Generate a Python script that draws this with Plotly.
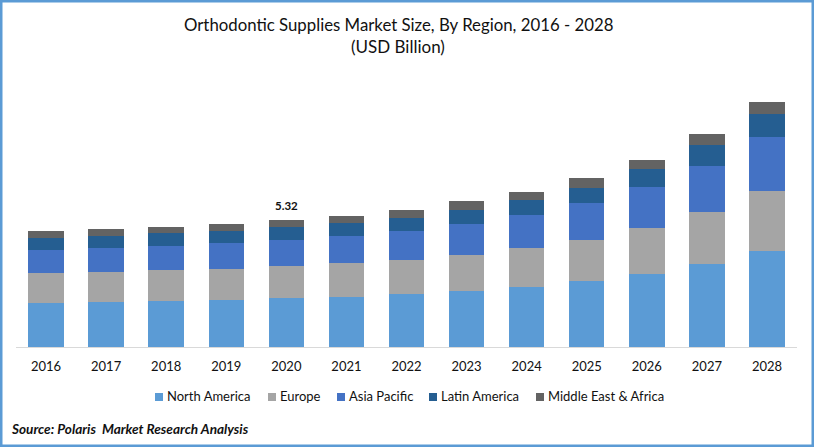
import plotly.graph_objects as go

years = ['2016', '2017', '2018', '2019', '2020', '2021', '2022',
         '2023', '2024', '2025', '2026', '2027', '2028']

# values, USD billion
north_america = [1.84, 1.89, 1.93, 1.97, 2.05, 2.09, 2.22, 2.35, 2.51, 2.76, 3.06, 3.48, 4.02]
europe = [1.26, 1.26, 1.30, 1.30, 1.34, 1.42, 1.42, 1.51, 1.63, 1.72, 1.93, 2.18, 2.51]
asia_pacific = [0.96, 1.01, 1.01, 1.09, 1.09, 1.13, 1.22, 1.30, 1.38, 1.55, 1.72, 1.93, 2.26]
latin_america = [0.50, 0.50, 0.54, 0.50, 0.55, 0.54, 0.54, 0.59, 0.63, 0.63, 0.75, 0.84, 0.96]
middle_east_africa = [0.29, 0.29, 0.25, 0.29, 0.29, 0.29, 0.34, 0.34, 0.34, 0.42, 0.38, 0.46, 0.50]

series = [
    ('North America', north_america, '#5B9BD5'),
    ('Europe', europe, '#A5A5A5'),
    ('Asia Pacific', asia_pacific, '#4472C4'),
    ('Latin America', latin_america, '#255E91'),
    ('Middle East & Africa', middle_east_africa, '#636363'),
]

W, H = 814, 447
FONT = 'Lato'
TEXT = '#111111'

fig = go.Figure()
for name, values, color in series:
    fig.add_trace(go.Bar(x=years, y=values, name=name, marker=dict(color=color, line=dict(width=0)),
                         showlegend=False))

idx_2020 = years.index('2020')
total_2020 = sum(s[1][idx_2020] for s in series)

fig.update_layout(
    width=W,
    height=H,
    margin=dict(l=0, r=0, t=0, b=0, autoexpand=False),
    paper_bgcolor='white',
    plot_bgcolor='white',
    barmode='stack',
    bargap=0.41,
    font=dict(family=FONT, color=TEXT, size=13),
    xaxis=dict(domain=[16 / W, 797 / W], type='category', range=[-0.5, 12.5], showline=True,
               linecolor='#D9D9D9', linewidth=1, ticks='', showgrid=False, ticklabelstandoff=7,
               tickfont=dict(size=13, family=FONT, color=TEXT)),
    yaxis=dict(domain=[(H - 347) / H, (H - 84) / H], range=[0, 11], visible=False, showgrid=False),
)

# whole-page frame
fig.add_shape(type='rect', xref='paper', yref='paper', x0=0, x1=1, y0=0, y1=1,
              line=dict(color='#5B9BD5', width=5), fillcolor='rgba(0,0,0,0)')


def page_text(text, px, py, size, anchor='center'):
    fig.add_annotation(text=text, xref='paper', yref='paper', x=px / W, y=1 - py / H,
                       xanchor=anchor, yanchor='middle', showarrow=False,
                       font=dict(size=size, family=FONT, color=TEXT))


page_text('Orthodontic Supplies Market Size, By Region, 2016 - 2028', 398, 25, 16.8)
page_text('(USD Billion)', 398, 46, 17)
page_text('<b><i>Source: Polaris  Market Research Analysis</i></b>', 9, 429, 13.6, anchor='left')

# numeric looking categories: annotation x has to be the category position
fig.add_annotation(text='<b>%.2f</b>' % total_2020, x=idx_2020, y=total_2020, yanchor='bottom', yshift=6,
                   showarrow=False, font=dict(size=11.5, family=FONT, color=TEXT))

# legend drawn by hand, plotly's own keeps too wide a gap between key and label
legend_x = [155, 268, 337, 429, 536]
for (name, values, color), px in zip(series, legend_x):
    fig.add_shape(type='rect', xref='paper', yref='paper', x0=px / W, x1=(px + 8) / W,
                  y0=1 - 401 / H, y1=1 - 393 / H, fillcolor=color, line=dict(width=0))
    page_text(name, px + 10, 396, 13, anchor='left')

# default body margin would push the page 8px off the frame
fig.write_html('out.html', config=dict(displayModeBar=False),
               post_script="document.body.style.margin='0';")
